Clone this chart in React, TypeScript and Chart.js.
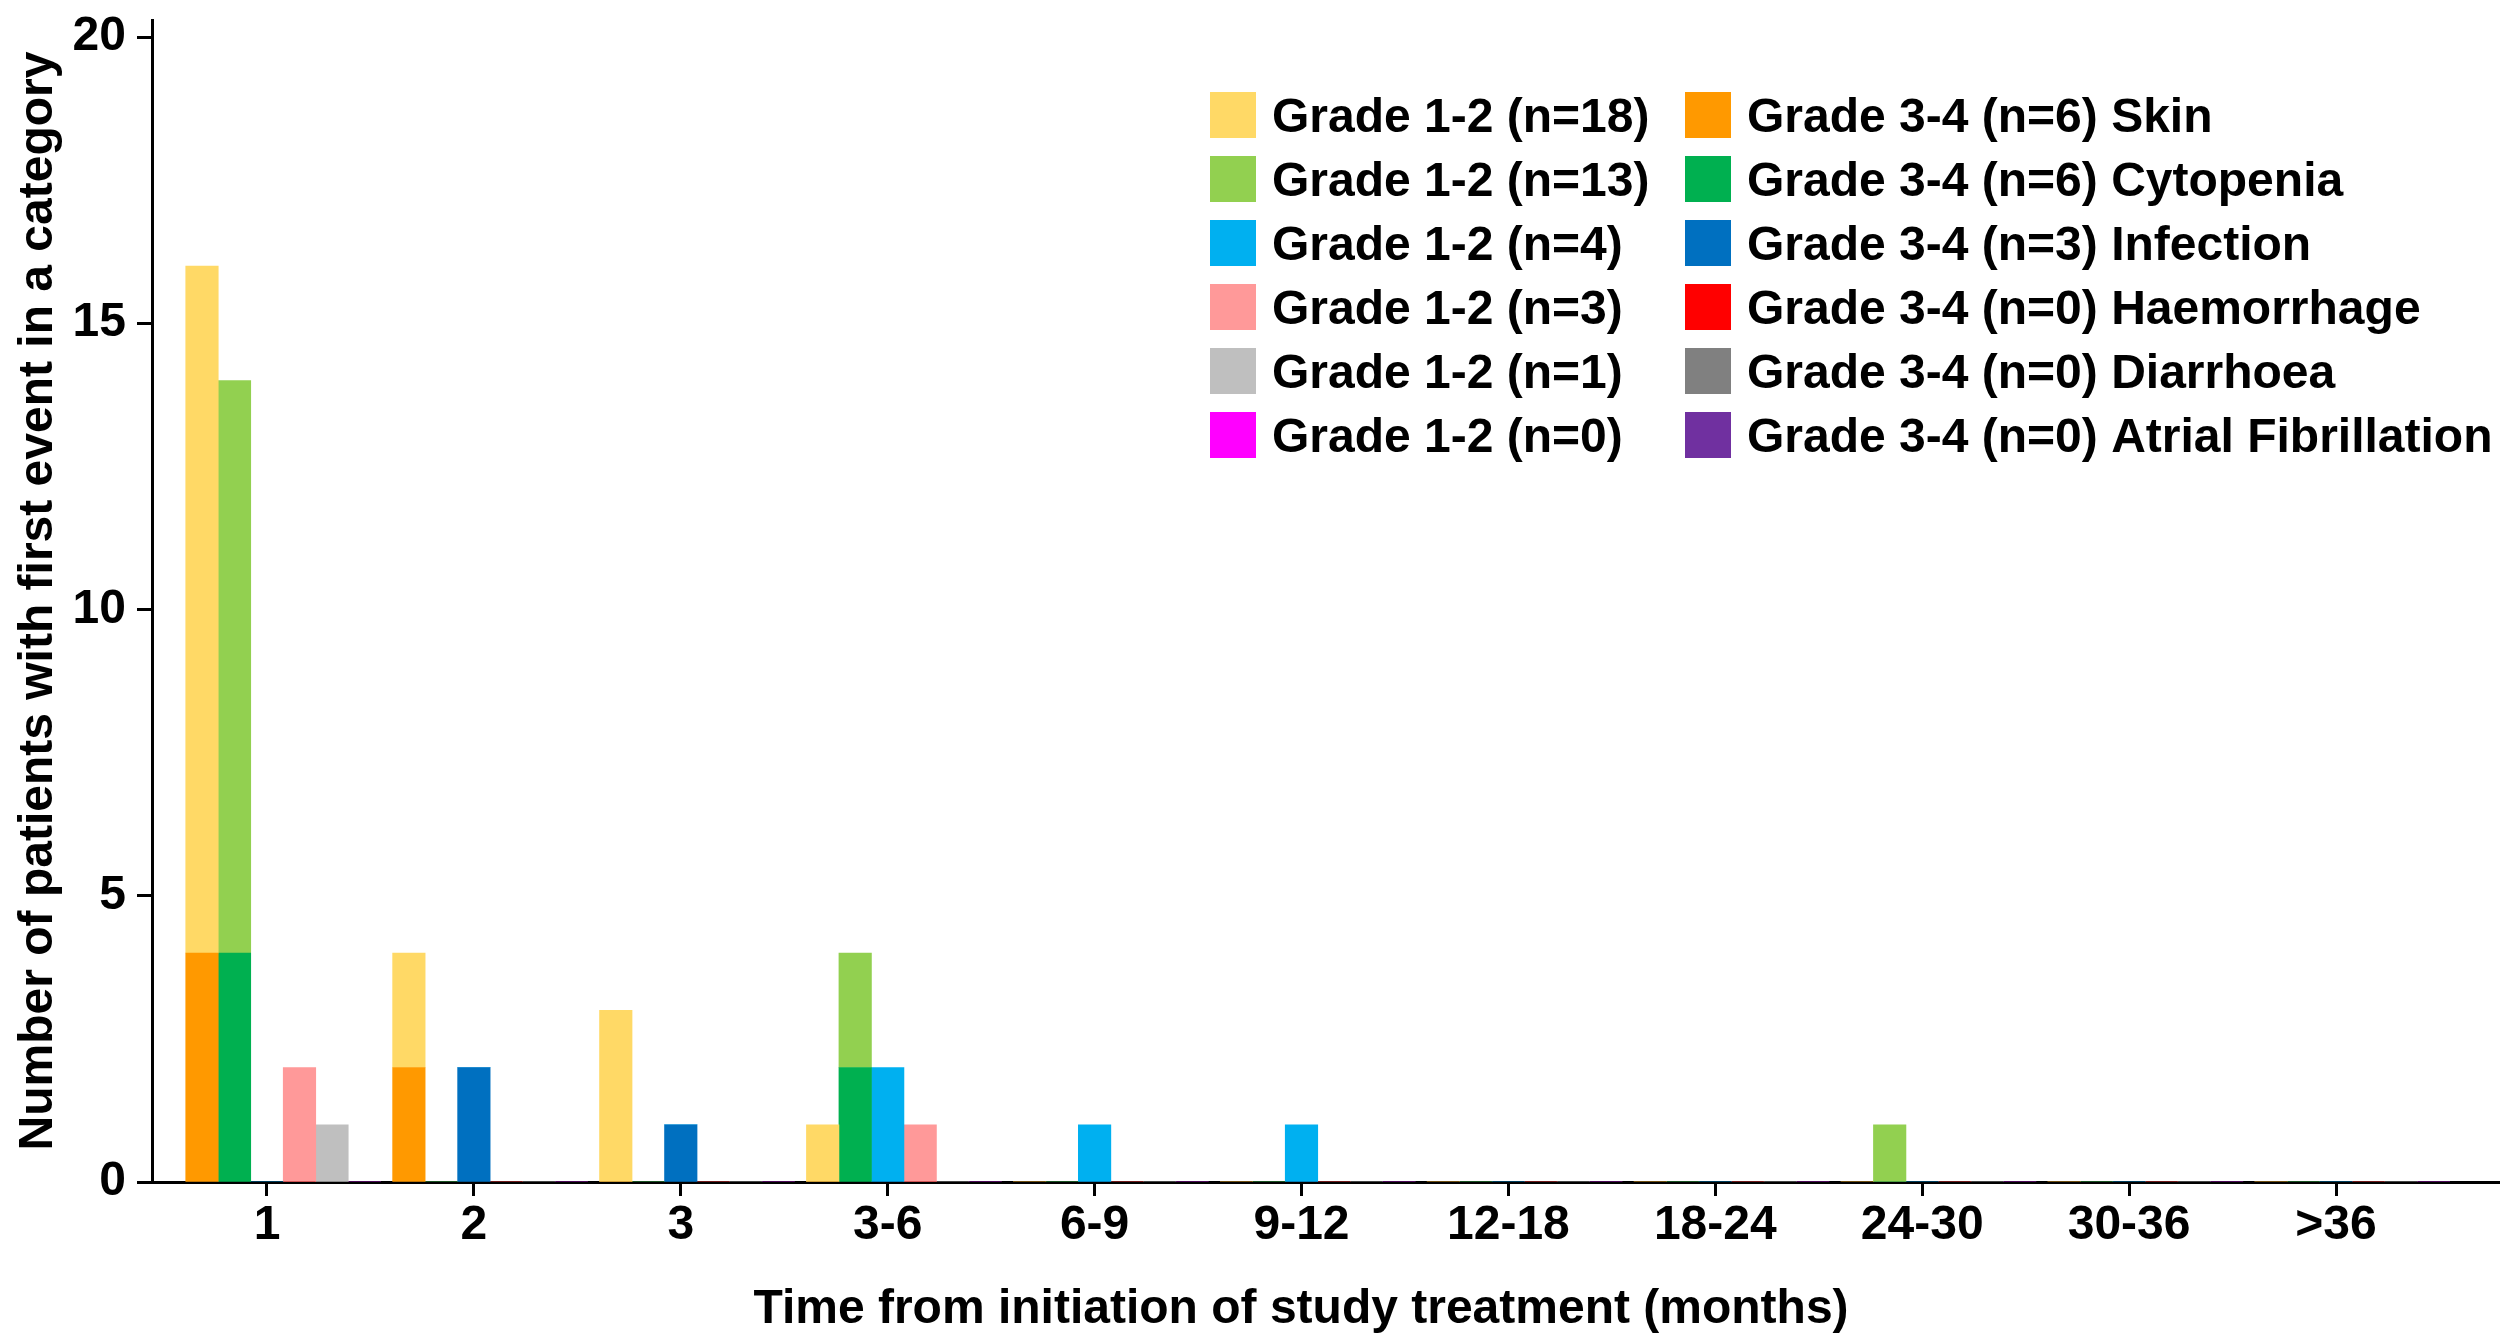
import React, { useEffect, useRef } from 'react';
import { Chart, registerables } from 'chart.js';

Chart.register(...registerables);

const FONT = "'Liberation Sans', Arial, Helvetica, sans-serif";

// ---- data ----
const timeLabels = ['1', '2', '3', '3-6', '6-9', '9-12', '12-18', '18-24', '24-30', '30-36', '>36'];
const categoryNames = ['Skin', 'Cytopenia', 'Infection', 'Haemorrhage', 'Diarrhoea', 'Atrial Fibrillation'];

const skinG12 = [12, 2, 3, 1, 0, 0, 0, 0, 0, 0, 0];
const skinG34 = [4, 2, 0, 0, 0, 0, 0, 0, 0, 0, 0];
const cytoG12 = [10, 0, 0, 2, 0, 0, 0, 0, 1, 0, 0];
const cytoG34 = [4, 0, 0, 2, 0, 0, 0, 0, 0, 0, 0];
const infectionG12 = [0, 0, 0, 2, 1, 1, 0, 0, 0, 0, 0];
const infectionG34 = [0, 2, 1, 0, 0, 0, 0, 0, 0, 0, 0];
const haemG12 = [2, 0, 0, 1, 0, 0, 0, 0, 0, 0, 0];
const haemG34 = [0, 0, 0, 0, 0, 0, 0, 0, 0, 0, 0];
const diarrG12 = [1, 0, 0, 0, 0, 0, 0, 0, 0, 0, 0];
const diarrG34 = [0, 0, 0, 0, 0, 0, 0, 0, 0, 0, 0];
const afibG12 = [0, 0, 0, 0, 0, 0, 0, 0, 0, 0, 0];
const afibG34 = [0, 0, 0, 0, 0, 0, 0, 0, 0, 0, 0];

const grade12Labels = [
  'Grade 1-2 (n=18)',
  'Grade 1-2 (n=13)',
  'Grade 1-2 (n=4)',
  'Grade 1-2 (n=3)',
  'Grade 1-2 (n=1)',
  'Grade 1-2 (n=0)',
];
const grade34Labels = [
  'Grade 3-4 (n=6) Skin',
  'Grade 3-4 (n=6) Cytopenia',
  'Grade 3-4 (n=3) Infection',
  'Grade 3-4 (n=0) Haemorrhage',
  'Grade 3-4 (n=0) Diarrhoea',
  'Grade 3-4 (n=0) Atrial Fibrillation',
];
const grade12Colors = ['#FFD966', '#92D050', '#00B0F0', '#FF9999', '#BFBFBF', '#FF00FF'];
const grade34Colors = ['#FF9900', '#00B050', '#0070C0', '#FF0000', '#808080', '#7030A0'];

const yTickValues = [0, 5, 10, 15, 20];
const xTitle = 'Time from initiation of study treatment (months)';
const yTitle = 'Number of patients with first event in a category';

const grade12Series = [skinG12, cytoG12, infectionG12, haemG12, diarrG12, afibG12];
const grade34Series = [skinG34, cytoG34, infectionG34, haemG34, diarrG34, afibG34];

// ---- layout constants ----
const GROUP_SHIFT = 0.0785; // half a bar slot, so the Infection bar sits on the tick
const BAR_SLOT = 32.5;

function toPoints(values: number[]) {
  return values.map((y, i) => ({ x: i + GROUP_SHIFT, y }));
}

const legendAndTitlePlugin = {
  id: 'legendAndTitle',
  afterDraw(chart: any) {
    const ctx = chart.ctx as CanvasRenderingContext2D;
    ctx.save();
    ctx.font = `bold 48px ${FONT}`;
    ctx.textBaseline = 'alphabetic';
    ctx.textAlign = 'left';
    for (let k = 0; k < categoryNames.length; k++) {
      const cy = 115 + 64 * k;
      ctx.fillStyle = grade12Colors[k];
      ctx.fillRect(1210, cy - 23, 46, 46);
      ctx.fillStyle = '#000';
      ctx.fillText(grade12Labels[k], 1272, cy + 17);
      ctx.fillStyle = grade34Colors[k];
      ctx.fillRect(1685, cy - 23, 46, 46);
      ctx.fillStyle = '#000';
      ctx.fillText(grade34Labels[k], 1747, cy + 17);
    }
    ctx.textAlign = 'center';
    ctx.fillText(xTitle, 1301, 1323);
    ctx.restore();
  },
};

export default function App() {
  const canvasRef = useRef<HTMLCanvasElement | null>(null);

  useEffect(() => {
    document.body.style.margin = '0';
    const canvas = canvasRef.current;
    if (!canvas) return;

    const datasets: any[] = [];
    for (let k = 0; k < categoryNames.length; k++) {
      datasets.push({
        label: grade34Labels[k],
        data: toPoints(grade34Series[k]),
        backgroundColor: grade34Colors[k],
        borderWidth: 0,
        stack: categoryNames[k],
        barThickness: BAR_SLOT,
      });
      datasets.push({
        label: grade12Labels[k],
        data: toPoints(grade12Series[k]),
        backgroundColor: grade12Colors[k],
        borderWidth: 0,
        stack: categoryNames[k],
        barThickness: BAR_SLOT,
      });
    }

    const chart = new Chart(canvas, {
      type: 'bar',
      data: { datasets },
      options: {
        animation: false,
        responsive: false,
        maintainAspectRatio: false,
        devicePixelRatio: 1,
        layout: { padding: { top: 20, left: 0, right: 0, bottom: 0 } },
        plugins: {
          legend: { display: false },
          tooltip: { enabled: false },
          title: { display: false },
        },
        scales: {
          x: {
            type: 'linear',
            min: -0.5558,
            max: 10.7926,
            offset: false,
            stacked: true,
            grid: {
              display: true,
              drawOnChartArea: false,
              drawTicks: true,
              tickLength: 14,
              tickWidth: 3,
              tickColor: '#000',
              offset: false,
            },
            border: { display: true, color: '#000', width: 3 },
            afterBuildTicks: (scale: any) => {
              scale.ticks = timeLabels.map((_, i) => ({ value: i }));
            },
            afterFit: (scale: any) => {
              scale.height = 151;
              scale.paddingLeft = 0;
              scale.paddingRight = 0;
            },
            ticks: {
              autoSkip: false,
              maxRotation: 0,
              minRotation: 0,
              padding: 1,
              color: '#000',
              font: { family: FONT, size: 48, weight: 'bold' },
              callback: (v: any) => {
                const i = Math.round(Number(v));
                return timeLabels[i] ?? '';
              },
            },
          },
          y: {
            type: 'linear',
            min: 0,
            max: 20.297,
            stacked: true,
            grid: {
              display: true,
              drawOnChartArea: false,
              drawTicks: true,
              tickLength: 15,
              tickWidth: 3,
              tickColor: '#000',
            },
            border: { display: true, color: '#000', width: 3 },
            afterBuildTicks: (scale: any) => {
              scale.ticks = yTickValues.map((v) => ({ value: v }));
            },
            afterFit: (scale: any) => {
              scale.width = 152;
              scale.paddingTop = 0;
              scale.paddingBottom = 0;
            },
            ticks: {
              padding: 11,
              color: '#000',
              font: { family: FONT, size: 48, weight: 'bold' },
            },
            title: {
              display: true,
              text: yTitle,
              color: '#000',
              font: { family: FONT, size: 48, weight: 'bold', lineHeight: 1 },
              padding: { top: 15, bottom: 0 },
            },
          },
        },
      } as any,
      plugins: [legendAndTitlePlugin],
    });

    return () => {
      chart.destroy();
    };
  }, []);

  return (
    <div style={{ position: 'absolute', left: 0, top: 0, width: 2500, height: 1333, background: '#fff' }}>
      <canvas ref={canvasRef} width={2500} height={1333} style={{ display: 'block', width: 2500, height: 1333 }} />
    </div>
  );
}
